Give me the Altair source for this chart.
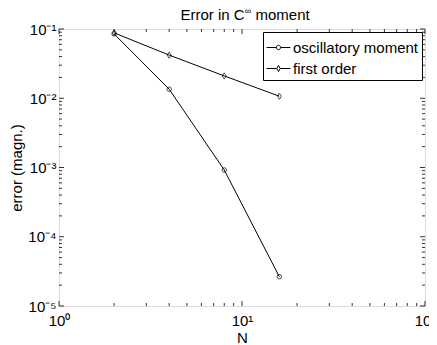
import altair as alt
import pandas as pd

N = [2, 4, 8, 16]
osc = [0.085, 0.0135, 0.00092, 2.65e-5]
first = [0.088, 0.042, 0.021, 0.0107]
series_names = ["oscillatory moment", "first order"]

title_parts = ["Error in C", "\u221e", "moment"]

x_major = [1, 10, 100]
x_major_labels = ["10\u2070", "10\u00b9", "10\u00b2"]
x_minor = [m * d for d in [1, 10] for m in range(2, 10)]
y_major = [1e-5, 1e-4, 1e-3, 1e-2, 1e-1]
y_major_labels = ["10\u207b\u2075", "10\u207b\u2074", "10\u207b\u00b3", "10\u207b\u00b2", "10\u207b\u00b9"]
y_minor = [m * d for d in [1e-5, 1e-4, 1e-3, 1e-2] for m in range(2, 10)]

W, H = 366, 277
FONT = "Liberation Sans"

df = pd.DataFrame({
    "N": N * 2,
    "err": osc + first,
    "series": [series_names[0]] * 4 + [series_names[1]] * 4,
})

xs = alt.Scale(type="log", domain=[1, 100], nice=False)
ys = alt.Scale(type="log", domain=[1e-5, 1e-1], nice=False)

def lab_expr(vals, labels):
    return "[" + ",".join("'%s'" % l for l in labels) + "][indexof([" + ",".join(repr(v) for v in vals) + "], datum.value)]"

common = dict(ticks=False, domain=False, grid=False, labelFlush=False, labelOverlap=False,
              labelFontSize=15, titleFontSize=15, titleFontWeight="normal",
              labelColor="black", titleColor="black", labelFont=FONT, titleFont=FONT)
xaxis = alt.Axis(values=x_major, labelExpr=lab_expr(x_major, x_major_labels), title="N",
                 labelPadding=7, titlePadding=2, **common)
yaxis = alt.Axis(values=y_major, labelExpr=lab_expr(y_major, y_major_labels), title="error (magn.)",
                 labelPadding=3, titlePadding=3, **common)

lines = alt.Chart(df).mark_line(color="black", strokeWidth=1).encode(
    x=alt.X("N:Q", scale=xs, axis=xaxis),
    y=alt.Y("err:Q", scale=ys, axis=yaxis),
    detail="series:N",
)

diamond_path = "M0,-1L0.62,0L0,1L-0.62,0Z"
pts_circ = alt.Chart(df).transform_filter(alt.datum.series == series_names[0]).mark_point(
    color="black", filled=False, strokeWidth=1, size=20, shape="circle").encode(
    x=alt.X("N:Q", scale=xs),
    y=alt.Y("err:Q", scale=ys),
)
pts_diam = alt.Chart(df).transform_filter(alt.datum.series == series_names[1]).mark_point(
    color="black", filled=False, strokeWidth=1, size=40, shape=diamond_path).encode(
    x=alt.X("N:Q", scale=xs),
    y=alt.Y("err:Q", scale=ys),
)

leg_paths = [
    "M-1,0H-0.18M0.18,0H1M0.18,0A0.18,0.18,0,1,1,-0.18,0A0.18,0.18,0,1,1,0.18,0",
    "M-1,0H-0.14M0.14,0H1M0,-0.26L0.14,0L0,0.26L-0.14,0Z",
]
legend_layer = alt.Chart(df).mark_point(filled=False, color="black", opacity=0).encode(
    x=alt.X("N:Q", scale=xs),
    y=alt.Y("err:Q", scale=ys),
    shape=alt.Shape("series:N", scale=alt.Scale(domain=series_names, range=leg_paths),
                    legend=alt.Legend(title=None, orient="top-right", offset=3, symbolSize=576,
                                      symbolOpacity=1, symbolStrokeColor="black", symbolFillColor="transparent",
                                      symbolStrokeWidth=1, labelFontSize=15, labelFont=FONT, labelColor="black",
                                      strokeColor="black", fillColor="white", padding=3, rowPadding=0,
                                      labelOffset=2, labelLimit=300)),
)

# title built from text marks so that the infinity sign can be a superscript
title_df = pd.DataFrame({"t": title_parts})
tx0 = W / 2 + 3 - 64.5
title_main = alt.Chart(title_df.iloc[[0]]).mark_text(
    align="left", baseline="alphabetic", fontSize=15, font=FONT, color="black").encode(
    x=alt.value(tx0), y=alt.value(-9), text="t:N")
title_sup = alt.Chart(title_df.iloc[[1]]).mark_text(
    align="left", baseline="alphabetic", fontSize=9, font=FONT, color="black").encode(
    x=alt.value(tx0 + 64.3), y=alt.value(-15), text="t:N")
title_end = alt.Chart(title_df.iloc[[2]]).mark_text(
    align="left", baseline="alphabetic", fontSize=15, font=FONT, color="black").encode(
    x=alt.value(tx0 + 75.0), y=alt.value(-9), text="t:N")

xmaj_df = pd.DataFrame({"v": x_major})
xmin_df = pd.DataFrame({"v": x_minor})
ymaj_df = pd.DataFrame({"v": y_major})
ymin_df = pd.DataFrame({"v": y_minor})

def xticks(d, L):
    b = alt.Chart(d).mark_rule(color="black", strokeWidth=0.8).encode(
        x=alt.X("v:Q", scale=xs), y=alt.value(H), y2=alt.value(H - L))
    t = alt.Chart(d).mark_rule(color="black", strokeWidth=0.8).encode(
        x=alt.X("v:Q", scale=xs), y=alt.value(0), y2=alt.value(L))
    return [b, t]

def yticks(d, L):
    l = alt.Chart(d).mark_rule(color="black", strokeWidth=0.8).encode(
        y=alt.Y("v:Q", scale=ys), x=alt.value(0), x2=alt.value(L))
    r = alt.Chart(d).mark_rule(color="black", strokeWidth=0.8).encode(
        y=alt.Y("v:Q", scale=ys), x=alt.value(W), x2=alt.value(W - L))
    return [l, r]

tick_layers = xticks(xmaj_df, 5) + xticks(xmin_df, 3) + yticks(ymaj_df, 5) + yticks(ymin_df, 3)

chart = alt.layer(lines, pts_circ, pts_diam, legend_layer, title_main, title_sup, title_end,
                  *tick_layers).properties(
    width=W, height=H,
    autosize=alt.AutoSizeParams(type="none"),
    padding={"left": 51, "top": 21, "right": 4, "bottom": 44},
).configure_view(stroke="black", strokeWidth=1).configure(background="white")

chart.save("out.html", embed_options={"renderer": "svg", "actions": False})
